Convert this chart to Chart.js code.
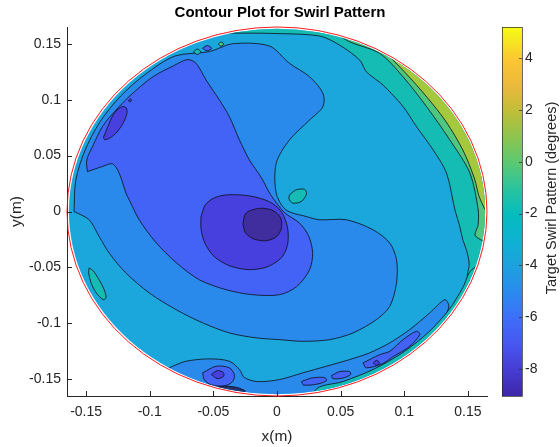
<!DOCTYPE html>
<html>
<head>
<meta charset="utf-8">
<title>Contour Plot for Swirl Pattern</title>
<script src="https://cdn.jsdelivr.net/npm/chart.js@4.4.1/dist/chart.umd.min.js"></script>
<style>
  body { margin: 0; background: #ffffff; }
  canvas { display: block; }
</style>
</head>
<body>
<canvas id="swirlChart" width="560" height="447"></canvas>
<script>
// axes
const xTicks = [-0.15, -0.1, -0.05, 0, 0.05, 0.1, 0.15];
const yTicks = [-0.15, -0.1, -0.05, 0, 0.05, 0.1, 0.15];
const axisLimit = 0.165;
const colorbarTicks = [-8, -6, -4, -2, 0, 2, 4];
const colorbarMin = -9.04;
const colorbarMax = 5.2;
const rimRadius = 0.165;     // red boundary circle (m)
const fieldRadius = 0.1635;  // extent of the measured field (m)

// filled contour regions, [x, y] in metres (back to front)
const fieldBase = [[-0.2, -0.2], [0.2, -0.2], [0.2, 0.2], [-0.2, 0.2]];
const tealRim = [[-0.07, 0.16], [-0.03, 0.1595], [-0.006, 0.1593], [0.0335, 0.1569], [0.0492, 0.1488], [0.065, 0.1354], [0.0702, 0.125], [0.0833, 0.1131], [0.0991, 0.0938], [0.1096, 0.0759], [0.1227, 0.0551], [0.1332, 0.0343], [0.1398, 0.0015], [0.1437, -0.0137], [0.146, -0.0253], [0.149, -0.035], [0.151, -0.047], [0.150, -0.060], [0.165, -0.075], [0.25, -0.08], [0.25, 0.25], [-0.07, 0.25]];
const greenRim = [[0.03, 0.175], [0.0545, 0.1533], [0.0807, 0.1414], [0.099, 0.1205], [0.1175, 0.0938], [0.1358, 0.064], [0.1516, 0.0343], [0.1581, 0.0015], [0.158, -0.012], [0.156, -0.022], [0.175, -0.03], [0.25, 0], [0.2, 0.25]];
const yellowRim = [[0.07, 0.16], [0.1, 0.125], [0.118, 0.102], [0.133, 0.08], [0.146, 0.055], [0.155, 0.03], [0.16, 0.01], [0.17, -0.005], [0.25, 0], [0.2, 0.25]];
const mediumBlue = [[-0.1595, 0], [-0.1581, 0.0279], [-0.1508, 0.0549], [-0.139, 0.0803], [-0.1229, 0.1032], [-0.1032, 0.1229], [-0.0803, 0.139], [-0.053, 0.143], [-0.035, 0.150], [-0.006, 0.148], [0.0098, 0.1325], [0.0256, 0.1205], [0.0361, 0.1057], [0.0361, 0.0938], [0.0256, 0.0818], [0.0098, 0.064], [-0.0006, 0.0432], [-0.0006, 0.0164], [0.007, 0.0015], [0.023, -0.0045], [0.0335, -0.0074], [0.0545, -0.0074], [0.0754, -0.0163], [0.0886, -0.0282], [0.0939, -0.0431], [0.0939, -0.0639], [0.0886, -0.0848], [0.0781, -0.0967], [0.0597, -0.1086], [0.0413, -0.1146], [0.0203, -0.1161], [0.002, -0.1146], [-0.0164, -0.113], [-0.0374, -0.1086], [-0.0584, -0.0996], [-0.0794, -0.0877], [-0.1004, -0.0728], [-0.1187, -0.055], [-0.1319, -0.0371], [-0.1398, -0.0223], [-0.1476, -0.0074]];
const bottomBand = [[-0.082, -0.1384], [-0.0715, -0.1339], [-0.0531, -0.1318], [-0.0374, -0.1339], [-0.0295, -0.1413], [-0.0256, -0.1485], [-0.0154, -0.1521], [0.002, -0.1503], [0.0203, -0.1443], [0.0387, -0.1384], [0.0571, -0.1324], [0.0728, -0.1264], [0.0886, -0.1175], [0.1043, -0.1056], [0.12, -0.0907], [0.1319, -0.0788], [0.135, -0.0842], [0.1335, -0.0949], [0.16, -0.12], [0.1, -0.2], [-0.09, -0.2], [-0.1, -0.15]];
const tealRimLow = [[0.175, -0.04], [0.153, -0.052], [0.146, -0.068], [0.135, -0.088], [0.119, -0.108], [0.099, -0.126], [0.076, -0.141], [0.052, -0.152], [0.03, -0.16], [0.03, -0.2], [0.2, -0.2]];
const royalBlue = [[-0.149, 0.0357], [-0.1495, 0.046], [-0.145, 0.058], [-0.1372, 0.0759], [-0.1275, 0.0895], [-0.1155, 0.1035], [-0.0975, 0.1205], [-0.081, 0.1305], [-0.0702, 0.1359], [-0.0636, 0.1325], [-0.0557, 0.1176], [-0.0453, 0.0998], [-0.0374, 0.0848], [-0.0295, 0.064], [-0.0217, 0.0462], [-0.0122, 0.0301], [-0.005, 0.015], [0.006, -0.001], [0.0177, -0.0104], [0.0248, -0.0217], [0.028, -0.0369], [0.0256, -0.0521], [0.0154, -0.0672], [0.002, -0.0744], [-0.0193, -0.0744], [-0.0398, -0.07], [-0.061, -0.0611], [-0.0791, -0.0458], [-0.0949, -0.028], [-0.1083, -0.0074], [-0.1161, 0.0104], [-0.1187, 0.0164], [-0.124, 0.0343], [-0.1293, 0.0426], [-0.1372, 0.0402]];
const innerRing = [[-0.0597, -0.0045], [-0.0563, 0.006], [-0.0492, 0.0122], [-0.039, 0.0149], [-0.0217, 0.014], [-0.0059, 0.0087], [0.0035, -0.0003], [0.0083, -0.0146], [0.0083, -0.0297], [0.0035, -0.0413], [-0.0075, -0.0494], [-0.0217, -0.052], [-0.0374, -0.0485], [-0.05, -0.0396], [-0.0571, -0.0271], [-0.0598, -0.0146]];
const swirlCore = [[-0.0268, -0.011], [-0.0248, -0.0021], [-0.0193, 0.0015], [-0.0114, 0.0029], [-0.0028, 0.0006], [0.0028, -0.0056], [0.0035, -0.0146], [-0.0004, -0.0226], [-0.0091, -0.0262], [-0.0185, -0.0244], [-0.0248, -0.019]];
const upperLeftPatch = [[-0.1363, 0.0665], [-0.1331, 0.0754], [-0.1284, 0.087], [-0.1229, 0.0933], [-0.1189, 0.0933], [-0.1178, 0.0888], [-0.1205, 0.0799], [-0.1258, 0.071], [-0.1315, 0.0656], [-0.1355, 0.0643]];
const upperLeftDot = [[-0.1167, 0.0989], [-0.1155, 0.1007], [-0.1143, 0.0998], [-0.1155, 0.098]];
const tealBlobCentre = [[0.0098, 0.0149], [0.0151, 0.0194], [0.0217, 0.0198], [0.0232, 0.0158], [0.0193, 0.0091], [0.0124, 0.0075], [0.0094, 0.0113]];
const tealBlobLeft = [[-0.1476, -0.0505], [-0.1445, -0.053], [-0.1398, -0.061], [-0.1358, -0.0699], [-0.1343, -0.0771], [-0.1366, -0.0788], [-0.1421, -0.0726], [-0.1461, -0.0637], [-0.148, -0.0548]];
const bottomLobeRoyal = [[-0.0584, -0.1443], [-0.0479, -0.1384], [-0.0374, -0.1398], [-0.0335, -0.146], [-0.035, -0.1523], [-0.0413, -0.1559], [-0.0516, -0.155], [-0.0571, -0.1505]];
const bottomLobeRing = [[-0.0516, -0.1458], [-0.0469, -0.1423], [-0.0421, -0.1441], [-0.0421, -0.1476], [-0.0469, -0.1494]];
const bottomRimDark = [[-0.05, -0.1575], [-0.041, -0.1562], [-0.031, -0.1575], [-0.025, -0.161], [-0.05, -0.164]];
const lowerRightRoyal = [[0.0676, -0.1354], [0.0807, -0.128], [0.0886, -0.125], [0.099, -0.1146], [0.1096, -0.1071], [0.1122, -0.11], [0.1043, -0.1205], [0.091, -0.130], [0.083, -0.136], [0.0702, -0.1398]];
const lowerRightRing = [[0.0757, -0.1354], [0.0781, -0.1331], [0.0805, -0.1354], [0.0781, -0.1376]];
const bottomRoyalA = [[0.0429, -0.1467], [0.0492, -0.1432], [0.0571, -0.1432], [0.0579, -0.1458], [0.0516, -0.149], [0.0437, -0.1494]];
const bottomRoyalB = [[0.0193, -0.152], [0.0272, -0.1489], [0.0374, -0.1485], [0.039, -0.1512], [0.0319, -0.1543], [0.0209, -0.1552]];
const topBlobTeal = [[-0.0655, 0.1428], [-0.0627, 0.1452], [-0.0599, 0.1428], [-0.0627, 0.1404]];
const topBlobBlue = [[-0.0585, 0.146], [-0.0549, 0.1484], [-0.0513, 0.146], [-0.0549, 0.1436]];
const topBlobGreen = [[-0.0462, 0.1497], [-0.044, 0.1515], [-0.0418, 0.1497], [-0.044, 0.1479]];

// band colours (parula)
const bandColors = {
  core: 'rgb(64,46,158)',
  ring: 'rgb(71,64,222)',
  royal: 'rgb(66,99,246)',
  medium: 'rgb(42,138,236)',
  cyan: 'rgb(27,167,220)',
  teal: 'rgb(20,188,180)',
  green: 'rgb(78,200,128)',
  yellow: 'rgb(165,200,60)',
  dark: 'rgb(40,50,110)'
};
const parulaStops = [
  [0.00, 'rgb(62,38,168)'], [0.07, 'rgb(70,60,212)'], [0.14, 'rgb(72,86,240)'],
  [0.21, 'rgb(62,110,250)'], [0.28, 'rgb(42,138,238)'], [0.35, 'rgb(30,160,222)'],
  [0.42, 'rgb(15,178,210)'], [0.49, 'rgb(5,188,190)'], [0.56, 'rgb(40,196,160)'],
  [0.63, 'rgb(90,200,115)'], [0.70, 'rgb(140,197,80)'], [0.77, 'rgb(190,190,55)'],
  [0.84, 'rgb(235,185,60)'], [0.91, 'rgb(252,198,50)'], [0.97, 'rgb(245,235,30)'],
  [1.00, 'rgb(249,251,20)']
];

const layers = [
  [fieldBase, 'cyan', false],
  [tealRim, 'teal', true],
  [greenRim, 'green', true],
  [yellowRim, 'yellow', true],
  [mediumBlue, 'medium', true],
  [bottomBand, 'medium', true],
  [tealRimLow, 'teal', true],
  [royalBlue, 'royal', true],
  [innerRing, 'ring', true],
  [swirlCore, 'core', true],
  [upperLeftPatch, 'ring', true],
  [upperLeftDot, 'ring', true],
  [tealBlobCentre, 'teal', true],
  [tealBlobLeft, 'teal', true],
  [bottomLobeRoyal, 'royal', true],
  [bottomLobeRing, 'ring', true],
  [bottomRimDark, 'dark', true],
  [lowerRightRoyal, 'royal', true],
  [lowerRightRing, 'ring', true],
  [bottomRoyalA, 'royal', true],
  [bottomRoyalB, 'royal', true],
  [topBlobTeal, 'teal', true],
  [topBlobBlue, 'royal', true],
  [topBlobGreen, 'green', true]
];

const textColor = '#262626';
const fontFamily = "'Liberation Sans', Arial, Helvetica, sans-serif";

const datasets = layers.map(([pts, band, outline], i) => {
  const data = pts.map(([x, y]) => ({ x, y }));
  data.push({ x: pts[0][0], y: pts[0][1] });
  return {
    data,
    showLine: true,
    fill: 'shape',
    backgroundColor: bandColors[band],
    borderColor: outline ? 'rgba(15,15,25,0.9)' : 'rgba(0,0,0,0)',
    borderWidth: outline ? 0.9 : 0,
    pointRadius: 0,
    pointHoverRadius: 0,
    tension: 0.3,
    order: layers.length - i
  };
});

// clip the field to the measured disc, draw the rim, inward ticks and colorbar
const swirlPlugin = {
  id: 'swirlPlugin',
  beforeDatasetsDraw(chart) {
    const { ctx, scales: { x, y } } = chart;
    const cx = x.getPixelForValue(0), cy = y.getPixelForValue(0);
    ctx.save();
    ctx.beginPath();
    ctx.ellipse(cx, cy, x.getPixelForValue(fieldRadius) - cx, cy - y.getPixelForValue(fieldRadius), 0, 0, Math.PI * 2);
    ctx.clip();
  },
  afterDatasetsDraw(chart) {
    const { ctx, scales: { x, y } } = chart;
    ctx.restore();
    const cx = x.getPixelForValue(0), cy = y.getPixelForValue(0);
    ctx.save();
    ctx.strokeStyle = 'rgba(255,0,0,0.9)';
    ctx.lineWidth = 1;
    ctx.beginPath();
    ctx.ellipse(cx, cy, x.getPixelForValue(rimRadius) - cx, cy - y.getPixelForValue(rimRadius), 0, 0, Math.PI * 2);
    ctx.stroke();
    ctx.restore();
  },
  afterDraw(chart) {
    const { ctx, chartArea: a, scales: { x, y, cb } } = chart;
    ctx.save();
    ctx.strokeStyle = textColor;
    ctx.lineWidth = 1;
    ctx.beginPath();
    xTicks.forEach(v => {
      const px = Math.round(x.getPixelForValue(v)) + 0.5;
      ctx.moveTo(px, a.bottom);
      ctx.lineTo(px, a.bottom - 5);
    });
    yTicks.forEach(v => {
      const py = Math.round(y.getPixelForValue(v)) + 0.5;
      ctx.moveTo(a.left, py);
      ctx.lineTo(a.left + 5, py);
    });
    ctx.stroke();

    // colorbar
    const top = cb.getPixelForValue(colorbarMax);
    const bottom = cb.getPixelForValue(colorbarMin);
    const left = a.right + 15;
    const width = 20;
    const grad = ctx.createLinearGradient(0, bottom, 0, top);
    parulaStops.forEach(([t, c]) => grad.addColorStop(t, c));
    ctx.fillStyle = grad;
    ctx.fillRect(left, top, width, bottom - top);
    ctx.strokeStyle = textColor;
    ctx.lineWidth = 0.7;
    ctx.strokeRect(left + 0.5, top + 0.5, width, bottom - top);
    ctx.beginPath();
    colorbarTicks.forEach(v => {
      const py = Math.round(cb.getPixelForValue(v)) + 0.5;
      ctx.moveTo(left + width, py);
      ctx.lineTo(left + width - 3, py);
    });
    ctx.stroke();

    ctx.translate(552, cb.getPixelForValue(-1.4));
    ctx.rotate(-Math.PI / 2);
    ctx.fillStyle = textColor;
    ctx.font = '14.5px ' + fontFamily;
    ctx.textAlign = 'center';
    ctx.textBaseline = 'middle';
    ctx.fillText('Target Swirl Pattern (degrees)', 0, 0);
    ctx.restore();
  }
};

new Chart(document.getElementById('swirlChart'), {
  type: 'scatter',
  data: { datasets },
  options: {
    responsive: false,
    animation: false,
    events: [],
    layout: { padding: 0 },
    plugins: {
      legend: { display: false },
      tooltip: { enabled: false },
      title: {
        display: true,
        text: 'Contour Plot for Swirl Pattern',
        color: '#000',
        font: { family: fontFamily, size: 15, weight: 'bold' },
        padding: { top: 4, bottom: 5 }
      }
    },
    scales: {
      x: {
        type: 'linear',
        min: -axisLimit,
        max: axisLimit,
        afterBuildTicks: axis => { axis.ticks = xTicks.map(v => ({ value: v })); },
        afterFit: axis => { axis.height = 51; },
        grid: { display: false, drawTicks: false },
        border: { display: true, color: textColor, width: 1 },
        ticks: {
          color: textColor,
          font: { family: fontFamily, size: 14 },
          padding: 8,
          maxRotation: 0,
          callback: v => String(v)
        },
        title: {
          display: true,
          text: 'x(m)',
          color: textColor,
          font: { family: fontFamily, size: 15.4 },
          padding: { top: 0, bottom: 1 }
        }
      },
      y: {
        type: 'linear',
        min: -axisLimit,
        max: axisLimit,
        afterBuildTicks: axis => { axis.ticks = yTicks.map(v => ({ value: v })); },
        afterFit: axis => { axis.width = 67; },
        grid: { display: false, drawTicks: false },
        border: { display: true, color: textColor, width: 1 },
        ticks: {
          color: textColor,
          font: { family: fontFamily, size: 14 },
          padding: 6,
          callback: v => String(v)
        },
        title: {
          display: true,
          text: 'y(m)',
          color: textColor,
          font: { family: fontFamily, size: 15.4 },
          padding: { top: 8, bottom: 0 }
        }
      },
      cb: {
        type: 'linear',
        position: 'right',
        min: colorbarMin,
        max: colorbarMax,
        afterBuildTicks: axis => { axis.ticks = colorbarTicks.map(v => ({ value: v })); },
        afterFit: axis => { axis.width = 73; },
        grid: { display: false, drawTicks: true, tickLength: 36 },
        border: { display: false },
        ticks: {
          color: textColor,
          font: { family: fontFamily, size: 14 },
          padding: 2,
          callback: v => String(v)
        }
      }
    }
  },
  plugins: [swirlPlugin]
});
</script>
</body>
</html>
